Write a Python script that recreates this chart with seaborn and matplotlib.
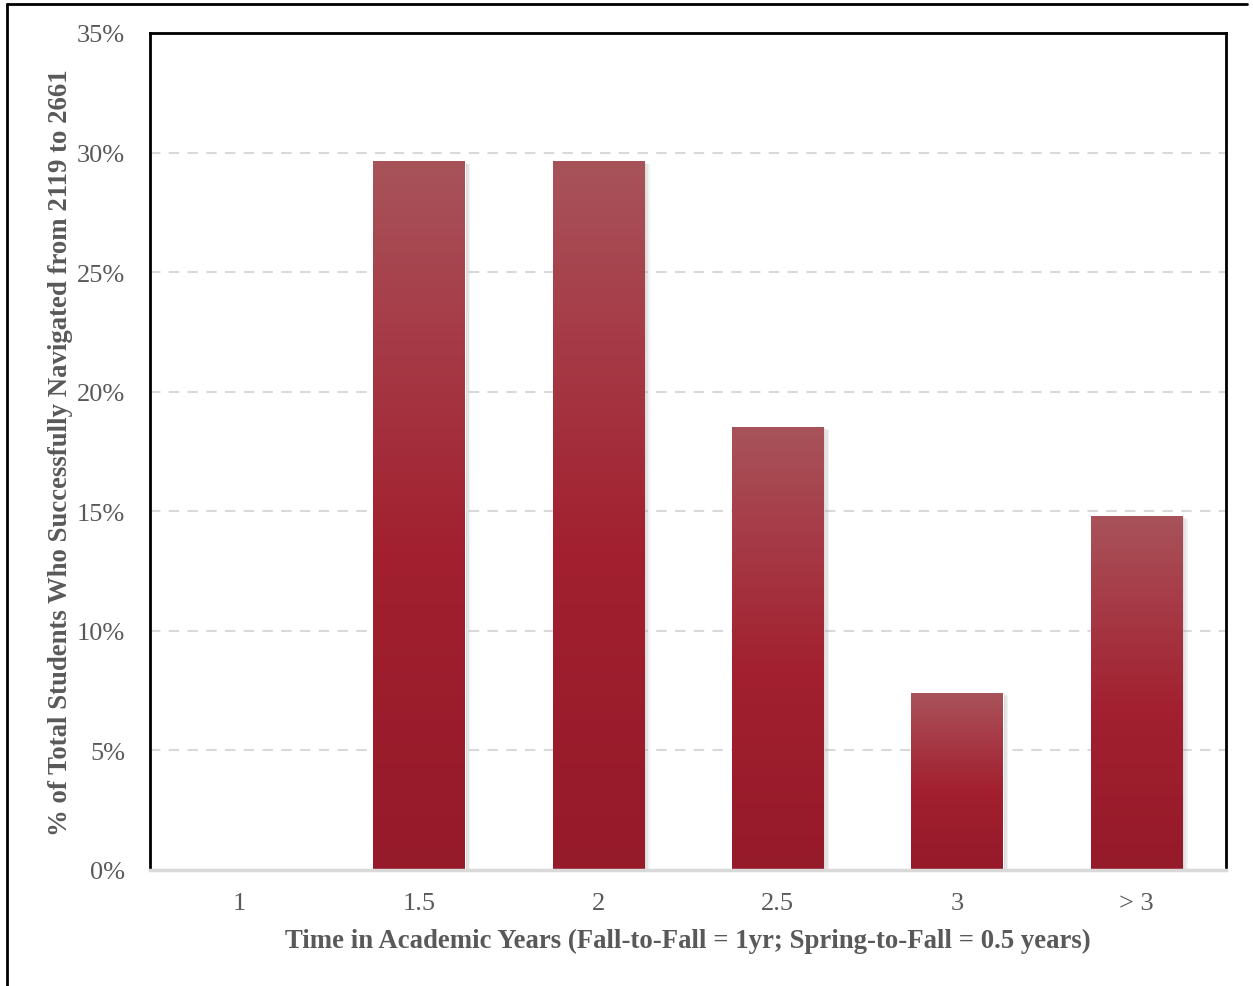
import numpy as np
import pandas as pd
import matplotlib
matplotlib.use("Agg")
import matplotlib.pyplot as plt
import matplotlib.patheffects as pe
from matplotlib.colors import LinearSegmentedColormap
from matplotlib.lines import Line2D
import seaborn as sns

# Share of students by time taken to move from course 2119 to 2661
categories = ["1", "1.5", "2", "2.5", "3", "> 3"]
percent = [0.0, 29.63, 29.63, 18.52, 7.41, 14.81]
y_ticks = [0, 5, 10, 15, 20, 25, 30, 35]
y_tick_labels = ["0%", "5%", "10%", "15%", "20%", "25%", "30%", "35%"]

df = pd.DataFrame({"years": categories, "pct": percent})

sns.set_theme(style="white")
plt.rcParams["font.family"] = ["Liberation Serif", "DejaVu Serif"]

GRAY_TEXT = "#595959"

fig = plt.figure(figsize=(12.53, 9.87), dpi=100)
ax = fig.add_axes([150 / 1253, 116 / 987, 1076 / 1253, 837 / 987])

sns.barplot(data=df, x="years", y="pct", color="#A2202F", width=0.51,
            ax=ax, zorder=3, saturation=1)

# Vertical red gradient inside every bar, lighter at the top
grad_cmap = LinearSegmentedColormap.from_list(
    "bar_grad",
    [(0.0, "#951A2A"), (0.45, "#A2202F"), (0.75, "#A63B47"), (1.0, "#A8535A")],
)
grad = np.linspace(0, 1, 256).reshape(-1, 1)
for patch in ax.patches:
    h = patch.get_height()
    if h <= 0:
        patch.set_visible(False)
        continue
    # soft drop shadow built from a few faint offset copies
    patch.set_path_effects([
        pe.SimplePatchShadow(offset=(4, -2), shadow_rgbFace="#9a9a9a", alpha=0.12),
        pe.SimplePatchShadow(offset=(3, -1.5), shadow_rgbFace="#9a9a9a", alpha=0.15),
        pe.SimplePatchShadow(offset=(1.5, -1), shadow_rgbFace="#8a8a8a", alpha=0.2),
        pe.Normal(),
    ])
    x0 = patch.get_x()
    w = patch.get_width()
    im = ax.imshow(grad, cmap=grad_cmap, origin="lower", aspect="auto",
                   extent=(x0, x0 + w, 0, h), zorder=4, interpolation="bicubic")
    im.set_clip_path(patch)

ax.set_xlim(-0.5, len(categories) - 0.5)
ax.set_ylim(0, 35)
ax.set_yticks(y_ticks)
ax.set_yticklabels(y_tick_labels)

# Dashed horizontal gridlines
for v in y_ticks[1:-1]:
    ax.axhline(v, color="#D9D9D9", lw=1.5, ls=(0, (5, 4)), zorder=1)

ax.tick_params(axis="both", length=0, labelsize=19, colors=GRAY_TEXT)
ax.tick_params(axis="x", pad=16)
ax.tick_params(axis="y", pad=18)

for side in ["left", "top", "right"]:
    ax.spines[side].set_color("#000000")
    ax.spines[side].set_linewidth(2)
    ax.spines[side].set_visible(True)
ax.spines["bottom"].set_color("#D9D9D9")
ax.spines["bottom"].set_linewidth(2.5)
ax.spines["bottom"].set_zorder(5)

ax.set_xlabel("Time in Academic Years (Fall-to-Fall = 1yr; Spring-to-Fall = 0.5 years)",
              fontsize=19.3, fontweight="bold", color=GRAY_TEXT, labelpad=10)
ax.set_ylabel("% of Total Students Who Successfully Navigated from 2119 to 2661",
              fontsize=19.3, fontweight="bold", color=GRAY_TEXT, labelpad=3)

# Outer frame lines along the top and left edges of the figure
W, H = 1253, 987
fig.add_artist(Line2D([7 / W, 1247 / W], [1 - 5 / H, 1 - 5 / H], color="black",
                      lw=2, transform=fig.transFigure))
fig.add_artist(Line2D([7 / W, 7 / W], [0, 1 - 5 / H], color="black",
                      lw=2, transform=fig.transFigure))

fig.savefig("out.png", dpi=100, facecolor="white")
